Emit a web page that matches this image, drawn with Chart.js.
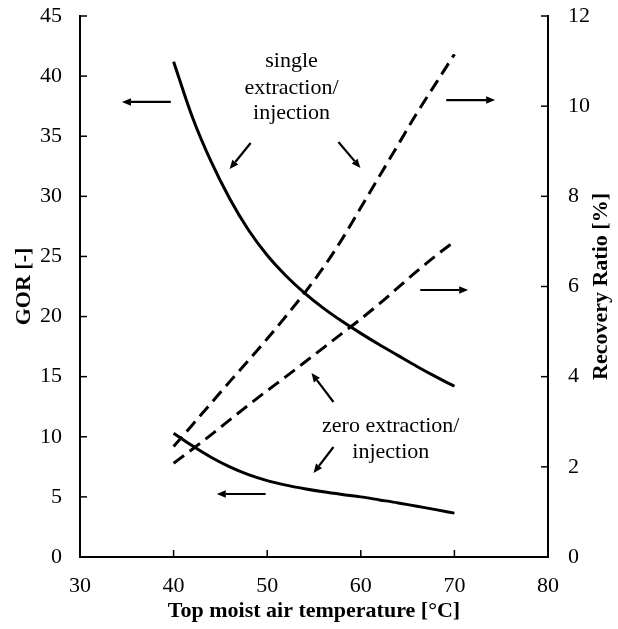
<!DOCTYPE html>
<html>
<head>
<meta charset="utf-8">
<script src="https://cdn.jsdelivr.net/npm/chart.js@4/dist/chart.umd.min.js"></script>
<style>
  html, body { margin: 0; padding: 0; background: #fff; }
  #wrap { width: 618px; height: 629px; }
</style>
</head>
<body>
<div id="wrap"><canvas id="c" width="618" height="629"></canvas></div>
<script>
// ---- data ----
const temps      = [40, 42, 44, 46, 48, 50, 52, 54, 56, 58, 60, 62, 64, 66, 68, 70];
const gorSingle  = [41.2, 36.6, 32.9, 29.8, 27.2, 25.1, 23.4, 21.95, 20.7, 19.6, 18.6, 17.65, 16.75, 15.85, 15.0, 14.2];
const gorZero    = [10.3, 9.25, 8.3, 7.5, 6.85, 6.35, 5.98, 5.68, 5.42, 5.2, 5.0, 4.75, 4.5, 4.22, 3.94, 3.65];
const rrSingle   = [2.45, 2.93, 3.41, 3.89, 4.36, 4.84, 5.34, 5.86, 6.42, 7.05, 7.75, 8.45, 9.15, 9.85, 10.5, 11.15];
const rrZero     = [2.08, 2.39, 2.71, 3.04, 3.37, 3.69, 4.00, 4.32, 4.64, 4.96, 5.28, 5.62, 5.98, 6.34, 6.68, 7.0];
const xTicks     = [30, 40, 50, 60, 70, 80];
const gorTicks   = [0, 5, 10, 15, 20, 25, 30, 35, 40, 45];
const rrTicks    = [0, 2, 4, 6, 8, 10, 12];

// annotation text and arrows in data coordinates (x: °C, y: GOR units)
const noteSingle = { x: 52.6, y: [41.26, 39.0, 36.9], lines: ['single', 'extraction/', 'injection'] };
const noteZero   = { x: 63.2, y: [10.9, 8.75], lines: ['zero extraction/', 'injection'] };
const arrows = [
  [39.7, 37.85, 34.48, 37.85],
  [48.23, 34.44, 45.99, 32.27],
  [57.61, 34.52, 59.96, 32.36],
  [69.13, 38.01, 74.35, 38.01],
  [66.35, 22.21, 71.47, 22.21],
  [57.08, 12.89, 54.73, 15.31],
  [57.08, 9.15, 54.95, 6.99],
  [49.83, 5.24, 44.61, 5.24]
];

const SERIF = '"Liberation Serif", "Times New Roman", serif';
Chart.defaults.font.family = SERIF;
Chart.defaults.color = '#000';

const pts = arr => temps.map((t, i) => ({ x: t, y: arr[i] }));

const extras = {
  id: 'extras',
  afterDatasetsDraw(chart) {
    const { ctx, chartArea: a, scales } = chart;
    const x = scales.x, y = scales.y, y2 = scales.y2;
    ctx.save();
    ctx.strokeStyle = '#000';
    ctx.fillStyle = '#000';
    ctx.lineWidth = 1.5;
    // inward ticks
    x.ticks.forEach(t => {
      const p = x.getPixelForValue(t.value);
      ctx.beginPath(); ctx.moveTo(p, a.bottom); ctx.lineTo(p, a.bottom - 7); ctx.stroke();
    });
    y.ticks.forEach(t => {
      const p = y.getPixelForValue(t.value);
      ctx.beginPath(); ctx.moveTo(a.left, p); ctx.lineTo(a.left + 7, p); ctx.stroke();
    });
    y2.ticks.forEach(t => {
      const p = y2.getPixelForValue(t.value);
      ctx.beginPath(); ctx.moveTo(a.right, p); ctx.lineTo(a.right - 7, p); ctx.stroke();
    });
    // arrows
    ctx.lineWidth = 2.2;
    arrows.forEach(([x1, v1, x2, v2]) => {
      const px1 = x.getPixelForValue(x1), py1 = y.getPixelForValue(v1);
      const px2 = x.getPixelForValue(x2), py2 = y.getPixelForValue(v2);
      const ang = Math.atan2(py2 - py1, px2 - px1);
      const hl = 9, hw = 3.8;
      const bx = px2 - hl * Math.cos(ang), by = py2 - hl * Math.sin(ang);
      ctx.beginPath(); ctx.moveTo(px1, py1); ctx.lineTo(bx, by); ctx.stroke();
      ctx.beginPath();
      ctx.moveTo(px2, py2);
      ctx.lineTo(bx + hw * Math.sin(ang), by - hw * Math.cos(ang));
      ctx.lineTo(bx - hw * Math.sin(ang), by + hw * Math.cos(ang));
      ctx.closePath(); ctx.fill();
    });
    // notes
    ctx.font = '22px ' + SERIF;
    ctx.textAlign = 'center';
    ctx.textBaseline = 'middle';
    [noteSingle, noteZero].forEach(n => {
      n.lines.forEach((s, i) => ctx.fillText(s, x.getPixelForValue(n.x), y.getPixelForValue(n.y[i])));
    });
    // right axis title (reads bottom to top)
    ctx.save();
    ctx.translate(601, (a.top + a.bottom) / 2);
    ctx.rotate(-Math.PI / 2);
    ctx.font = 'bold 22px ' + SERIF;
    ctx.fillText('Recovery Ratio [%]', 0, 0);
    ctx.restore();
    ctx.restore();
  }
};

const solid = (label, arr) => ({
  label, data: pts(arr), yAxisID: 'y', borderColor: '#000', borderWidth: 3,
  pointRadius: 0, cubicInterpolationMode: 'monotone', fill: false, clip: false
});
const dashed = (label, arr) => ({
  label, data: pts(arr), yAxisID: 'y2', borderColor: '#000', borderWidth: 3,
  borderDash: [13, 7], pointRadius: 0, cubicInterpolationMode: 'monotone', fill: false, clip: false
});

const fitV = w => s => { s.width = w; s.paddingTop = 0; s.paddingBottom = 0; };

new Chart(document.getElementById('c'), {
  type: 'line',
  data: {
    datasets: [
      solid('GOR single extraction/injection', gorSingle),
      solid('GOR zero extraction/injection', gorZero),
      dashed('RR single extraction/injection', rrSingle),
      dashed('RR zero extraction/injection', rrZero)
    ]
  },
  options: {
    responsive: false,
    animation: false,
    devicePixelRatio: 1,
    layout: { padding: { top: 16, left: 0, right: 0, bottom: 0 } },
    plugins: { legend: { display: false }, tooltip: { enabled: false } },
    scales: {
      x: {
        type: 'linear', min: 30, max: 80,
        afterBuildTicks: s => { s.ticks = xTicks.map(v => ({ value: v })); },
        afterFit: s => { s.height = 72; s.paddingLeft = 0; s.paddingRight = 0; },
        grid: { display: true, drawOnChartArea: false, drawTicks: false },
        border: { display: true, color: '#000', width: 2 },
        ticks: { padding: 16, font: { size: 22 }, color: '#000', maxRotation: 0 },
        title: { display: true, text: 'Top moist air temperature [°C]', font: { size: 22, weight: 'bold' }, color: '#000', padding: { top: 0, bottom: 4 } }
      },
      y: {
        type: 'linear', position: 'left', min: 0, max: 45,
        afterBuildTicks: s => { s.ticks = gorTicks.map(v => ({ value: v })); },
        afterFit: fitV(80),
        grid: { display: true, drawOnChartArea: false, drawTicks: false },
        border: { display: true, color: '#000', width: 2 },
        ticks: { padding: 18, font: { size: 22 }, color: '#000' },
        title: { display: true, text: 'GOR [-]', font: { size: 22, weight: 'bold' }, color: '#000', padding: { top: 11, bottom: 0 } }
      },
      y2: {
        type: 'linear', position: 'right', min: 0, max: 12,
        afterBuildTicks: s => { s.ticks = rrTicks.map(v => ({ value: v })); },
        afterFit: fitV(70),
        grid: { display: true, drawOnChartArea: false, drawTicks: false },
        border: { display: true, color: '#000', width: 2 },
        ticks: { padding: 20, font: { size: 22 }, color: '#000' }
      }
    }
  },
  plugins: [extras]
});
</script>
</body>
</html>
